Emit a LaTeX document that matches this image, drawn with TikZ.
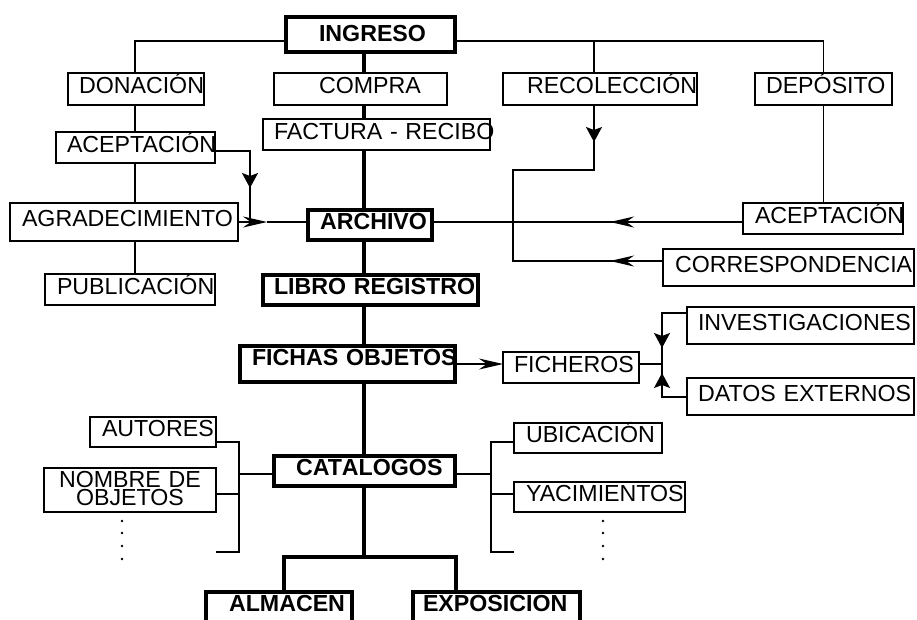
\documentclass[tikz,border=0pt]{standalone}
\usepackage{fontspec}
\setmainfont{Liberation Sans}
\usetikzlibrary{arrows.meta}
\newcommand{\fnt}{\fontsize{23.2pt}{26pt}\selectfont}
\begin{document}
\begin{tikzpicture}[x=1pt, y=-1pt,
    frame/.style={draw, line width=1.3pt, anchor=north west, outer sep=0pt, inner ysep=0pt, inner xsep=11pt, align=left, font=\fnt},
    box/.style={frame, text height=18pt, text depth=9pt},
    bbox/.style={box, line width=3.3pt, font=\fnt\bfseries},
    ln/.style={line width=1.3pt},
    trunk/.style={line width=3.3pt},
    htip/.style={-{Stealth[length=24pt, width=11pt]}},
    vtip/.style={-{Stealth[length=15pt, width=16pt, inset=3pt]}}]
  \useasboundingbox (0,0) rectangle (917,619);
  \clip (0,0) rectangle (917,619);

  \node[bbox, inner xsep=33pt, text width=103pt, minimum height=35pt, text depth=4pt] (ingreso) at (286,17) {INGRESO};
  \node[box, text width=114pt, minimum height=32pt] (don) at (68,73) {DONACIÓN};
  \node[box, inner xsep=45pt, text width=83pt, minimum height=32pt] (compra) at (274,73) {COMPRA};
  \node[box, inner xsep=24pt, text width=146pt, minimum height=32pt] (rec) at (503,73) {RECOLECCIÓN};
  \node[box, text width=115pt, minimum height=32pt] (dep) at (755,73) {DEPÓSITO};
  \node[box, text width=205pt, minimum height=31pt] (fact) at (263,119) {\mbox{FACTURA - RECIBO}};
  \node[box, text width=137pt, minimum height=31pt] (acepL) at (56,132) {ACEPTACIÓN};
  \node[box, inner xsep=12pt, text width=204pt, minimum height=38pt] (agr) at (10,203) {AGRADECIMIENTO};
  \node[box, inner xsep=12pt, text width=146pt, minimum height=31pt] (pub) at (45,274) {PUBLICACIÓN};
  \node[bbox, inner xsep=12pt, text width=100pt, minimum height=30pt] (arch) at (308,210) {ARCHIVO};
  \node[bbox, text width=193pt, minimum height=30pt] (libro) at (263,275) {\mbox{LIBRO REGISTRO}};
  \node[bbox, inner xsep=12pt, text width=191pt, minimum height=36pt, text depth=15pt] (fichas) at (240,346) {\mbox{FICHAS OBJETOS}};
  \node[box, inner xsep=12pt, text width=136pt, minimum height=31pt] (acepR) at (743,203) {ACEPTACIÓN};
  \node[box, inner xsep=12pt, text width=227pt, minimum height=37pt] (corr) at (663,249) {CORRESPONDENCIA};
  \node[box, text width=205pt, minimum height=37pt] (inv) at (687,307) {INVESTIGACIONES};
  \node[box, text width=114pt, minimum height=31pt] (fich) at (503,352) {FICHEROS};
  \node[box, text width=205pt, minimum height=37pt] (dat) at (687,378) {\mbox{DATOS EXTERNOS}};
  \node[box, inner xsep=12pt, text width=102pt, minimum height=30pt] (aut) at (90,417) {AUTORES};
  \node[frame, inner xsep=4pt, text width=164pt, minimum height=44pt, align=center, text depth=21pt, font=\fontsize{23.2pt}{15pt}\selectfont] (nom) at (44,468) {NOMBRE DE\\OBJETOS};
  \node[bbox, inner xsep=22pt, text width=137pt, minimum height=30pt] (cat) at (274,456) {CATÁLOGOS};
  \node[box, inner xsep=12pt, text width=124pt, minimum height=30pt] (ubi) at (514,423) {UBICACIÓN};
  \node[box, inner xsep=12pt, text width=147pt, minimum height=30pt] (yac) at (514,482) {YACIMIENTOS};
  \node[bbox, inner xsep=23pt, text width=100pt, minimum height=30pt] (alm) at (206,592) {ALMACÉN};
  \node[bbox, inner xsep=10pt, text width=147pt, minimum height=30pt] (expo) at (413,592) {EXPOSICIÓN};

  \coordinate (bus) at (0,41);
  \coordinate (dx) at (135,0);
  \coordinate (rx) at (594,0);
  \coordinate (trk) at (364,0);
  \coordinate (row) at (0,222);
  \coordinate (ay) at (0,151);
  \coordinate (ja) at (250,222);
  \coordinate (ta) at (250,188);
  \coordinate (tb) at (267,222);
  \coordinate (tc) at (610,222);
  \coordinate (k1) at (594,170);
  \coordinate (k2) at (513,261);
  \coordinate (td) at (594,142);
  \coordinate (te) at (610,261);
  \coordinate (fx) at (662,364);
  \coordinate (iy) at (0,313);
  \coordinate (dy) at (0,397);
  \coordinate (tf) at (662,348);
  \coordinate (tg) at (662,373);
  \coordinate (sl) at (284,557);
  \coordinate (sr) at (456,557);
  \coordinate (bl) at (239,474);
  \coordinate (br) at (491,474);
  \coordinate (y1) at (0,442);
  \coordinate (y2) at (0,494);
  \coordinate (y3) at (0,552);
  \coordinate (el) at (216,552);
  \coordinate (er) at (514,552);

  \draw[ln] (ingreso.west |- bus) -| (don.north -| dx);
  \draw[ln] (ingreso.east |- bus) -| (dep.north);
  \draw[ln] (rx |- bus) -- (rec.north -| rx);
  \draw[ln] (don.south -| dx) -- (acepL.north -| dx);
  \draw[ln] (acepL.south -| dx) -- (agr.north -| dx);
  \draw[ln] (agr.south -| dx) -- (pub.north -| dx);
  \draw[ln] (dep.south) -- (dep.south |- acepR.north);

  \draw[ln] (acepL.east |- ay) -| (ja);
  \draw[ln, vtip] (ja |- ay) -- (ta);
  \draw[ln, htip] (agr.east |- row) -- (tb);
  \draw[ln] (tb) -- (arch.west |- row);
  \draw[ln] (arch.east |- row) -- (acepR.west |- row);
  \draw[ln, htip] (acepR.west |- row) -- (tc);

  \draw[ln] (rec.south -| rx) -- (k1) -| (k2) -- (corr.west |- k2);
  \draw[ln, vtip] (rec.south -| rx) -- (td);
  \draw[ln, htip] (corr.west |- k2) -- (te);

  \draw[ln, htip] (fichas.east) -- (fichas.east -| fich.west);
  \draw[ln] (fich.east |- fx) -- (fx);
  \draw[ln] (inv.west |- iy) -| (fx);
  \draw[ln] (dat.west |- dy) -| (fx);
  \draw[ln, vtip] (fx |- iy) -- (tf);
  \draw[ln, vtip] (fx |- dy) -- (tg);

  \foreach \a/\b in {ingreso/compra, compra/fact, fact/arch, arch/libro, libro/fichas, fichas/cat}
    \draw[trunk] (\a.south -| trk) -- (\b.north -| trk);
  \draw[trunk] (cat.south -| trk) -- (trk |- sl);
  \draw[trunk] (alm.north -| sl) |- (sr) -- (expo.north -| sr);

  \draw[ln] (cat.west |- bl) -- (bl);
  \draw[ln] (aut.east |- y1) -| (bl |- y3) -- (el);
  \draw[ln] (nom.east |- y2) -- (bl |- y2);
  \draw[ln] (cat.east |- br) -- (br);
  \draw[ln] (ubi.west |- y1) -| (br |- y3) -- (er);
  \draw[ln] (yac.west |- y2) -- (br |- y2);

  \foreach \y in {521,533,546,559} {
    \fill (122,\y) circle (1.4pt);
    \fill (603,\y) circle (1.4pt);
  }
\end{tikzpicture}
\end{document}
